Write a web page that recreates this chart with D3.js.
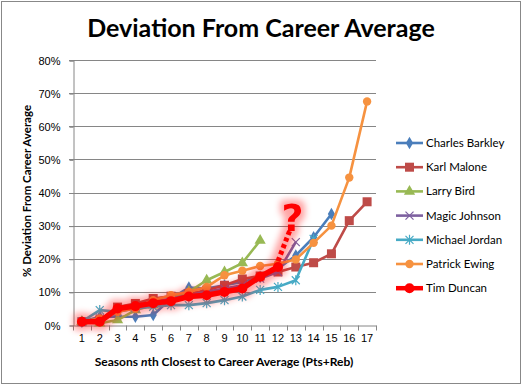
<!DOCTYPE html>
<html>
<head>
<meta charset="utf-8">
<script src="https://cdn.jsdelivr.net/npm/d3@7"></script>
<style>
  body { margin: 0; background: #fff; }
  svg { display: block; font-family: Lato, "Open Sans", sans-serif; }
  .grid line { stroke: #868686; stroke-width: 1; }
  .axis path, .axis line { stroke: #868686; }
  .axis text { fill: #000; font-size: 11px; }
</style>
</head>
<body>
<svg id="chart" width="523" height="386"></svg>
<script>
// seasons, ordered by closeness to career average
var seasons = d3.range(1, 18);
var yTicks = [0, 0.1, 0.2, 0.3, 0.4, 0.5, 0.6, 0.7, 0.8];

var barkley = [0.01, 0.025, 0.025, 0.025, 0.03, 0.08, 0.113, 0.11, 0.12, 0.13, 0.145, 0.17, 0.21, 0.265, 0.335];
var malone  = [0.01, 0.015, 0.054, 0.065, 0.08, 0.087, 0.095, 0.105, 0.12, 0.139, 0.148, 0.16, 0.175, 0.188, 0.215, 0.315, 0.372];
var bird    = [0.01, 0.005, 0.015, 0.045, 0.06, 0.08, 0.10, 0.135, 0.16, 0.187, 0.255];
var magic   = [0.01, 0.02, 0.04, 0.055, 0.07, 0.08, 0.09, 0.10, 0.11, 0.12, 0.14, 0.16, 0.25];
var jordan  = [0.01, 0.045, 0.04, 0.05, 0.055, 0.06, 0.06, 0.066, 0.075, 0.086, 0.106, 0.115, 0.135, 0.26];
var ewing   = [0.01, 0.02, 0.04, 0.05, 0.075, 0.09, 0.10, 0.115, 0.15, 0.164, 0.178, 0.185, 0.198, 0.248, 0.30, 0.445, 0.675];
var duncan  = [0.01, 0.01, 0.05, 0.057, 0.066, 0.072, 0.086, 0.09, 0.10, 0.11, 0.146, 0.175];
// where the dotted guess for Duncan's next season points to
var duncanGuess = [12.7, 0.29];

var series = [
  {name: "Charles Barkley", values: barkley, color: "#4a7ebb", marker: "diamond"},
  {name: "Karl Malone",     values: malone,  color: "#be4b48", marker: "square"},
  {name: "Larry Bird",      values: bird,    color: "#98b954", marker: "triangle"},
  {name: "Magic Johnson",   values: magic,   color: "#7d60a0", marker: "x"},
  {name: "Michael Jordan",  values: jordan,  color: "#46aac5", marker: "star"},
  {name: "Patrick Ewing",   values: ewing,   color: "#f69240", marker: "circle"},
  {name: "Tim Duncan",      values: duncan,  color: "#ff0000", marker: "bigcircle"}
];

var svg = d3.select("#chart");

// glow used for Duncan's line
var defs = svg.append("defs");
var glow = defs.append("filter").attr("id", "glow")
    .attr("x", "-20%").attr("y", "-20%").attr("width", "140%").attr("height", "140%");
glow.append("feMorphology").attr("in", "SourceAlpha").attr("operator", "dilate").attr("radius", 4).attr("result", "fat");
glow.append("feGaussianBlur").attr("in", "fat").attr("stdDeviation", 3).attr("result", "blur");
glow.append("feFlood").attr("flood-color", "#ff0000").attr("flood-opacity", 0.35);
glow.append("feComposite").attr("in2", "blur").attr("operator", "in").attr("result", "halo");
var merge = glow.append("feMerge");
merge.append("feMergeNode").attr("in", "halo");
merge.append("feMergeNode").attr("in", "SourceGraphic");

// outer border
svg.append("rect")
    .attr("x", 1.5).attr("y", 1.5).attr("width", 519).attr("height", 382)
    .attr("fill", "none").attr("stroke", "#888").attr("stroke-width", 1);

var plotLeft = 73, plotRight = 376, plotTop = 60, plotBottom = 325;

var x = d3.scaleBand().domain(seasons).range([plotLeft, plotRight]).padding(0);
var y = d3.scaleLinear().domain([0, 0.8]).range([plotBottom, plotTop]);
var cx = function(i) { return x(i) + x.bandwidth() / 2; };
var xc = d3.scaleLinear().domain([1, 17]).range([cx(1), cx(17)]);

// title
svg.append("text")
    .attr("x", 261).attr("y", 37)
    .attr("text-anchor", "middle")
    .style("font-size", "25px").style("font-weight", "bold")
    .text("Deviation From Career Average");

// gridlines
svg.append("g").attr("class", "grid")
  .selectAll("line")
  .data(yTicks.slice(1))
  .enter().append("line")
    .attr("x1", plotLeft - 4).attr("x2", plotRight)
    .attr("y1", function(d) { return Math.round(y(d)) + 0.5; })
    .attr("y2", function(d) { return Math.round(y(d)) + 0.5; });

// y axis
var yAxis = svg.append("g").attr("class", "axis")
    .attr("transform", "translate(" + (plotLeft + 0.5) + ",0.5)")
    .call(d3.axisLeft(y).tickValues(yTicks).tickFormat(d3.format(".0%")).tickSizeOuter(0).tickSize(4));
yAxis.selectAll("text").attr("x", -13);

// x axis with ticks between categories
var xAxis = svg.append("g").attr("class", "axis")
    .attr("transform", "translate(0," + (plotBottom + 0.5) + ")")
    .call(d3.axisBottom(x).tickSize(0).tickSizeOuter(0));
xAxis.selectAll("text").attr("dy", "1.25em");
xAxis.selectAll(".sep")
    .data(seasons.concat([18]))
  .enter().append("line")
    .attr("class", "sep")
    .attr("x1", function(d) { return Math.round(plotLeft + (d - 1) * x.bandwidth()) + 0.5; })
    .attr("x2", function(d) { return Math.round(plotLeft + (d - 1) * x.bandwidth()) + 0.5; })
    .attr("y1", 0).attr("y2", 5);

// axis titles
svg.append("text")
    .attr("transform", "translate(31,191) rotate(-90)")
    .attr("text-anchor", "middle")
    .style("font-size", "11.5px").style("font-weight", "bold")
    .text("% Deviation From Career Average");

var xt = svg.append("text")
    .attr("x", 224).attr("y", 366)
    .attr("text-anchor", "middle")
    .style("font-size", "12px").style("font-weight", "bold");
xt.append("tspan").text("Seasons ");
xt.append("tspan").style("font-style", "italic").text("n");
xt.append("tspan").text("th Closest to Career Average (Pts+Reb)");

// marker drawing
function drawMarker(sel, type, color) {
  if (type === "diamond") {
    sel.append("path").attr("d", d3.symbol(d3.symbolDiamond, 45)).attr("fill", color);
  } else if (type === "square") {
    sel.append("rect").attr("x", -4.5).attr("y", -4.5).attr("width", 9).attr("height", 9).attr("fill", color);
  } else if (type === "triangle") {
    sel.append("path").attr("d", d3.symbol(d3.symbolTriangle, 55)).attr("fill", color);
  } else if (type === "x") {
    sel.append("path").attr("d", "M-4,-4L4,4M-4,4L4,-4").attr("stroke", color).attr("stroke-width", 1.2);
  } else if (type === "star") {
    sel.append("path").attr("d", "M-4,-4L4,4M-4,4L4,-4M0,-5V5").attr("stroke", color).attr("stroke-width", 1.2);
  } else if (type === "circle") {
    sel.append("circle").attr("r", 4.2).attr("fill", color);
  } else if (type === "bigcircle") {
    sel.append("circle").attr("r", 5).attr("fill", color);
  }
}

var line = d3.line()
    .x(function(d, i) { return cx(i + 1); })
    .y(function(d) { return y(d); });

series.forEach(function(s) {
  var isDuncan = s.name === "Tim Duncan";
  var g = svg.append("g");
  if (isDuncan) g.attr("filter", "url(#glow)");
  g.append("path")
    .datum(s.values)
    .attr("fill", "none")
    .attr("stroke", s.color)
    .attr("stroke-width", isDuncan ? 5.5 : 2.6)
    .attr("stroke-linejoin", "round")
    .attr("d", line);
  g.selectAll(".m")
    .data(s.values)
    .enter().append("g")
      .attr("class", "m")
      .attr("transform", function(d, i) { return "translate(" + cx(i + 1) + "," + y(d) + ")"; })
      .each(function() { drawMarker(d3.select(this), s.marker, s.color); });

  if (isDuncan) {
    var last = s.values.length;
    g.append("line")
      .attr("x1", cx(last)).attr("y1", y(s.values[last - 1]) - 6)
      .attr("x2", xc(duncanGuess[0])).attr("y2", y(duncanGuess[1]))
      .attr("stroke", s.color).attr("stroke-width", 5)
      .attr("stroke-dasharray", "4,3");
    g.append("text")
      .attr("x", xc(duncanGuess[0]) + 2).attr("y", y(duncanGuess[1]) + 2)
      .attr("text-anchor", "middle")
      .attr("fill", s.color)
      .style("font-family", "DejaVu Sans, sans-serif")
      .style("font-size", "38px").style("font-weight", "bold")
      .text("?");
  }
});

// legend
var legend = svg.append("g").selectAll("g")
    .data(series)
  .enter().append("g")
    .attr("transform", function(d, i) { return "translate(396," + (143 + i * 24.2) + ")"; });

legend.append("line")
    .attr("x1", 0).attr("x2", 27)
    .attr("stroke", function(d) { return d.color; })
    .attr("stroke-width", function(d) { return d.name === "Tim Duncan" ? 4.5 : 2.6; });
legend.each(function(d) {
  var m = d3.select(this).append("g").attr("transform", "translate(13.5,0)");
  drawMarker(m, d.marker, d.color);
});
legend.append("text")
    .attr("x", 30).attr("dy", "0.35em")
    .style("font-size", "11.5px")
    .text(function(d) { return d.name; });
</script>
</body>
</html>
